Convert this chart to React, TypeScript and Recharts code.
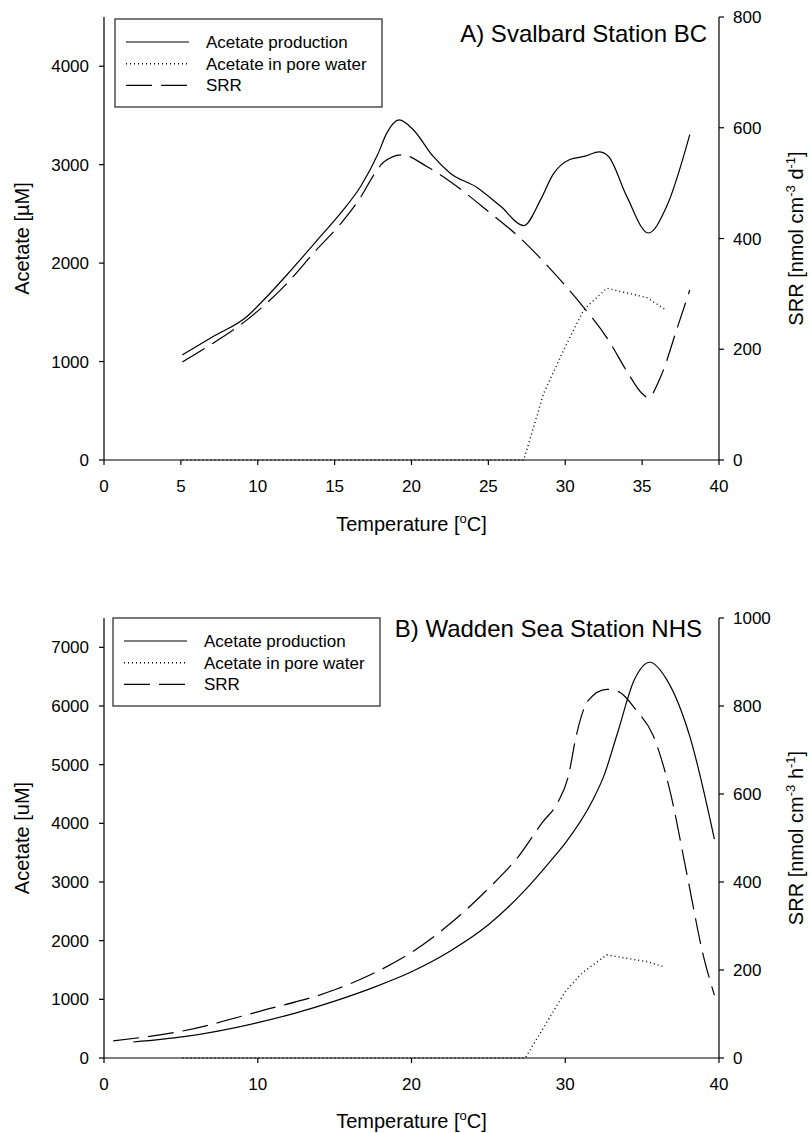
import React from 'react';
import { ComposedChart, Line, XAxis, YAxis } from 'recharts';

const FONT = '"Liberation Sans", Arial, Helvetica, sans-serif';

// A) Svalbard Station BC — temperature (°C) vs acetate (µM) and SRR (nmol cm-3 d-1)
const svalbardProduction = [
  { t: 5.1, v: 1068 }, { t: 7.1, v: 1254 }, { t: 9.3, v: 1458 }, { t: 10.4, v: 1628 },
  { t: 11.9, v: 1882 }, { t: 13.8, v: 2221 }, { t: 15.4, v: 2510 }, { t: 16.7, v: 2781 },
  { t: 17.8, v: 3103 }, { t: 18.4, v: 3323 }, { t: 19.2, v: 3455 }, { t: 20.1, v: 3357 },
  { t: 21.4, v: 3086 }, { t: 22.5, v: 2916 }, { t: 24.3, v: 2764 }, { t: 25.8, v: 2577 },
  { t: 27.3, v: 2381 }, { t: 28.4, v: 2645 }, { t: 29.2, v: 2899 }, { t: 30.3, v: 3052 },
  { t: 31.3, v: 3086 }, { t: 32.2, v: 3130 }, { t: 32.8, v: 3086 }, { t: 34.0, v: 2678 },
  { t: 35.4, v: 2306 }, { t: 36.6, v: 2577 }, { t: 38.1, v: 3306 },
];
const svalbardPoreWater = [
  { t: 5.1, v: 0 }, { t: 27.3, v: 0 }, { t: 28.6, v: 678 }, { t: 29.9, v: 1119 },
  { t: 31.2, v: 1526 }, { t: 32.7, v: 1745 }, { t: 35.3, v: 1650 }, { t: 36.5, v: 1530 },
];
const svalbardSrr = [
  { t: 5.1, v: 177 }, { t: 7.1, v: 211 }, { t: 9.3, v: 253 }, { t: 11.9, v: 319 },
  { t: 13.8, v: 379 }, { t: 15.4, v: 427 }, { t: 16.7, v: 475 }, { t: 17.6, v: 517 },
  { t: 18.2, v: 538 }, { t: 19.4, v: 551 }, { t: 21.0, v: 530 }, { t: 23.0, v: 493 },
  { t: 24.9, v: 451 }, { t: 27.1, v: 400 }, { t: 29.1, v: 343 }, { t: 30.8, v: 289 },
  { t: 32.8, v: 217 }, { t: 34.1, v: 156 }, { t: 35.0, v: 120 }, { t: 35.4, v: 113 },
  { t: 36.2, v: 150 }, { t: 37.3, v: 240 }, { t: 38.1, v: 307 },
];
const svalbardTempTicks = [0, 5, 10, 15, 20, 25, 30, 35, 40];
const svalbardAcetateTicks = [0, 1000, 2000, 3000, 4000];
const svalbardSrrTicks = [0, 200, 400, 600, 800];

// B) Wadden Sea Station NHS — temperature (°C) vs acetate (µM) and SRR (nmol cm-3 h-1)
const waddenProduction = [
  { t: 1.9, v: 273 }, { t: 5.2, v: 364 }, { t: 10.0, v: 603 }, { t: 12.5, v: 770 },
  { t: 15.0, v: 970 }, { t: 17.5, v: 1200 }, { t: 20.0, v: 1470 }, { t: 22.5, v: 1820 },
  { t: 25.0, v: 2270 }, { t: 27.2, v: 2810 }, { t: 29.2, v: 3408 }, { t: 30.0, v: 3664 },
  { t: 31.8, v: 4403 }, { t: 32.5, v: 4800 }, { t: 33.4, v: 5540 }, { t: 34.5, v: 6450 },
  { t: 35.5, v: 6746 }, { t: 36.6, v: 6450 }, { t: 38.1, v: 5483 }, { t: 39.7, v: 3732 },
];
const waddenPoreWater = [
  { t: 5.1, v: 0 }, { t: 27.4, v: 0 }, { t: 30.0, v: 1132 }, { t: 31.1, v: 1450 },
  { t: 32.7, v: 1758 }, { t: 34.6, v: 1672 }, { t: 35.3, v: 1644 }, { t: 36.5, v: 1548 },
];
const waddenSrr = [
  { t: 0.6, v: 39 }, { t: 5.2, v: 62 }, { t: 10.0, v: 105 }, { t: 15.0, v: 155 },
  { t: 17.5, v: 192 }, { t: 20.0, v: 240 }, { t: 22.5, v: 305 }, { t: 25.0, v: 385 },
  { t: 27.0, v: 460 }, { t: 28.5, v: 535 }, { t: 29.5, v: 580 }, { t: 30.2, v: 640 },
  { t: 30.7, v: 730 }, { t: 31.5, v: 813 }, { t: 32.7, v: 838 }, { t: 33.5, v: 832 },
  { t: 34.6, v: 791 }, { t: 35.7, v: 734 }, { t: 36.8, v: 609 }, { t: 37.9, v: 420 },
  { t: 39.0, v: 230 }, { t: 39.7, v: 143 },
];
const waddenTempTicks = [0, 10, 20, 30, 40];
const waddenAcetateTicks = [0, 1000, 2000, 3000, 4000, 5000, 6000, 7000];
const waddenSrrTicks = [0, 200, 400, 600, 800, 1000];

const DOTTED = '1 3';
const DASHED = '26 9';

const legendItems = [
  { label: 'Acetate production', dash: undefined as string | undefined },
  { label: 'Acetate in pore water', dash: DOTTED },
  { label: 'SRR', dash: DASHED },
];

const WIDTH = 811;
const PLOT_LEFT = 104;
const PLOT_RIGHT = 719;

interface Point { t: number; v: number }

interface PanelProps {
  top: number;
  height: number;
  marginTop: number;
  xAxisHeight: number;
  title: string;
  titleX: number;
  titleDy: number;
  acetateUnit: string;
  srrTime: string;
  production: Point[];
  poreWater: Point[];
  srr: Point[];
  tempTicks: number[];
  acetateTicks: number[];
  acetateMax: number;
  srrTicks: number[];
  srrMax: number;
  legendLeft: number;
  legendTop: number;
  xTitleDy: number;
}

const tickStyle = { fill: '#000', fontSize: 17, fontFamily: FONT };
const axisStroke = { stroke: '#000', strokeWidth: 1.2 };

const Panel: React.FC<PanelProps> = (p) => {
  const plotTop = p.marginTop;
  const plotBottom = p.height - p.xAxisHeight;
  const midY = (plotTop + plotBottom) / 2;
  const midX = (PLOT_LEFT + PLOT_RIGHT) / 2;

  return (
    <div style={{ position: 'absolute', left: 0, top: p.top, width: WIDTH, height: p.height }}>
      <ComposedChart width={WIDTH} height={p.height} margin={{ top: p.marginTop, right: 0, bottom: 0, left: 0 }}>
        <XAxis
          dataKey="t"
          type="number"
          domain={[0, 40]}
          ticks={p.tempTicks}
          height={p.xAxisHeight}
          tick={tickStyle}
          tickSize={5}
          tickMargin={15}
          axisLine={axisStroke}
          tickLine={axisStroke}
        />
        <YAxis
          yAxisId="acetate"
          domain={[0, p.acetateMax]}
          ticks={p.acetateTicks}
          width={PLOT_LEFT}
          tick={tickStyle}
          tickSize={5}
          tickMargin={10}
          axisLine={axisStroke}
          tickLine={axisStroke}
        />
        <YAxis
          yAxisId="srr"
          orientation="right"
          domain={[0, p.srrMax]}
          ticks={p.srrTicks}
          width={WIDTH - PLOT_RIGHT}
          tick={{ ...tickStyle, textAnchor: 'start' }}
          tickSize={5}
          tickMargin={9}
          axisLine={axisStroke}
          tickLine={axisStroke}
        />
        <Line data={p.poreWater} dataKey="v" yAxisId="acetate" type="linear" stroke="#000"
          strokeWidth={1.4} strokeDasharray={DOTTED} dot={false} activeDot={false} isAnimationActive={false} />
        <Line data={p.srr} dataKey="v" yAxisId="srr" type="monotone" stroke="#000"
          strokeWidth={1.2} strokeDasharray={DASHED} dot={false} activeDot={false} isAnimationActive={false} />
        <Line data={p.production} dataKey="v" yAxisId="acetate" type="monotone" stroke="#000"
          strokeWidth={1.2} dot={false} activeDot={false} isAnimationActive={false} />
      </ComposedChart>

      {/* titles, legend and axis captions */}
      <svg width={WIDTH} height={p.height} style={{ position: 'absolute', left: 0, top: 0, pointerEvents: 'none' }}
        fontFamily={FONT} fill="#000">
        <text x={p.titleX} y={plotTop + p.titleDy} fontSize={24} textAnchor="end">{p.title}</text>

        <rect x={p.legendLeft} y={p.legendTop} width={267} height={88} fill="#fff" stroke="#333" strokeWidth={1.3} />
        {legendItems.map((item, i) => {
          const y = p.legendTop + 23 + i * 21.7;
          return (
            <g key={item.label}>
              <line x1={p.legendLeft + 11} x2={p.legendLeft + 74} y1={y} y2={y} stroke="#000"
                strokeWidth={item.dash === DOTTED ? 1.4 : 1.2} strokeDasharray={item.dash} />
              <text x={p.legendLeft + 91} y={y + 6} fontSize={17}>{item.label}</text>
            </g>
          );
        })}

        <text transform={`translate(29 ${midY}) rotate(-90)`} fontSize={20} textAnchor="middle">
          {`Acetate [${p.acetateUnit}M]`}
        </text>
        <text transform={`translate(803 ${midY}) rotate(-90)`} fontSize={20} textAnchor="middle">
          SRR [nmol cm<tspan dy={-8} fontSize={13}>-3</tspan>
          <tspan dy={8}>{` ${p.srrTime}`}</tspan>
          <tspan dy={-8} fontSize={13}>-1</tspan>
          <tspan dy={8}>]</tspan>
        </text>
        <text x={midX} y={plotBottom + p.xTitleDy} fontSize={20} textAnchor="middle">
          Temperature [<tspan dy={-8} fontSize={13}>o</tspan><tspan dy={8}>C]</tspan>
        </text>
      </svg>
    </div>
  );
};

export default function App() {
  return (
    <div style={{ position: 'absolute', left: 0, top: 0, width: WIDTH, height: 1133, background: '#fff', overflow: 'hidden' }}>
      <Panel
        top={0}
        height={540}
        marginTop={17}
        xAxisHeight={80}
        title="A) Svalbard Station BC"
        titleX={707}
        titleDy={25}
        acetateUnit="µ"
        srrTime="d"
        production={svalbardProduction}
        poreWater={svalbardPoreWater}
        srr={svalbardSrr}
        tempTicks={svalbardTempTicks}
        acetateTicks={svalbardAcetateTicks}
        acetateMax={4500}
        srrTicks={svalbardSrrTicks}
        srrMax={800}
        legendLeft={115}
        legendTop={19}
        xTitleDy={71}
      />
      <Panel
        top={600}
        height={533}
        marginTop={18}
        xAxisHeight={75}
        title="B) Wadden Sea Station NHS"
        titleX={702}
        titleDy={19}
        acetateUnit="u"
        srrTime="h"
        production={waddenProduction}
        poreWater={waddenPoreWater}
        srr={waddenSrr}
        tempTicks={waddenTempTicks}
        acetateTicks={waddenAcetateTicks}
        acetateMax={7500}
        srrTicks={waddenSrrTicks}
        srrMax={1000}
        legendLeft={113}
        legendTop={618 - 600}
        xTitleDy={70}
      />
    </div>
  );
}
